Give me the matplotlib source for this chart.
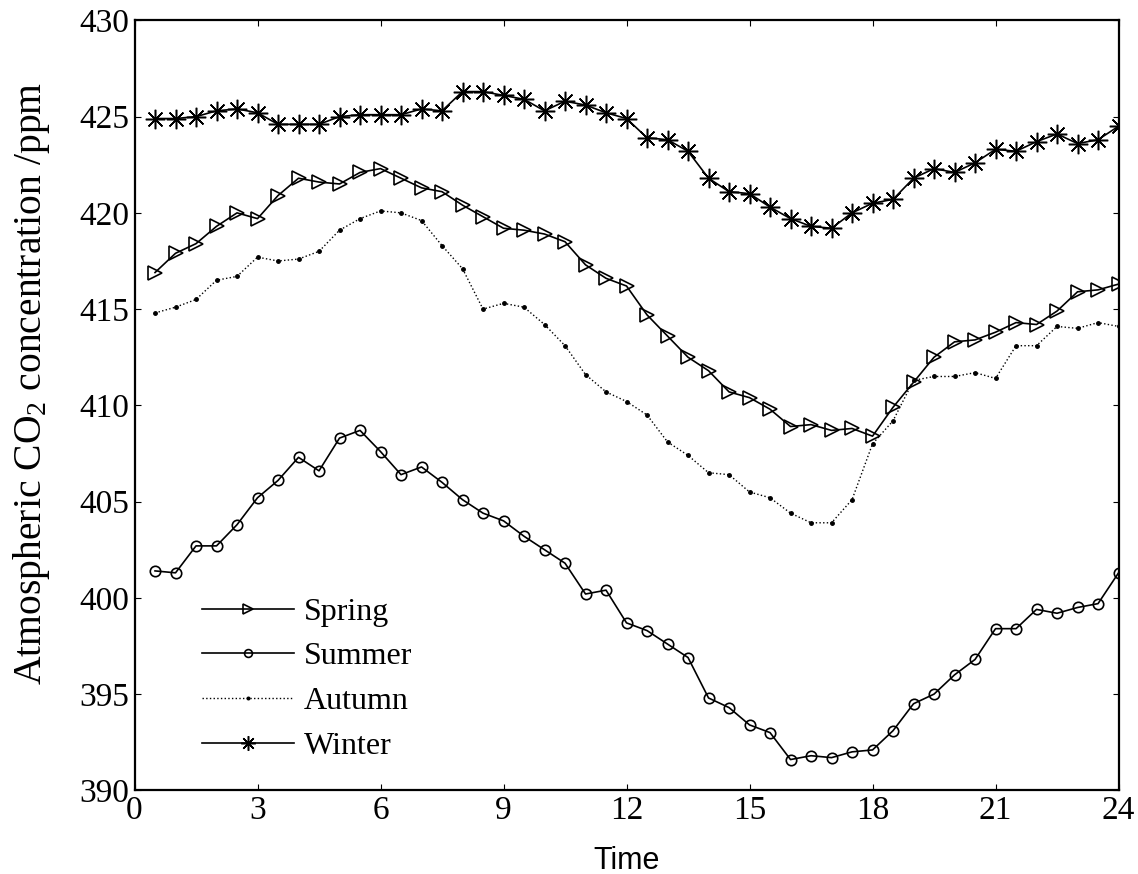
import matplotlib
matplotlib.use("Agg")
import matplotlib.pyplot as plt
import numpy as np

plt.rcParams['font.family'] = ['Liberation Serif', 'DejaVu Serif']
plt.rcParams['mathtext.fontset'] = 'custom'
plt.rcParams['mathtext.rm'] = 'Liberation Serif'
plt.rcParams['mathtext.it'] = 'Liberation Serif:italic'

# half-hourly readings, 0.5 h .. 24 h
hours = np.arange(1, 49) * 0.5

spring = [416.9, 417.9, 418.4, 419.3, 420.0, 419.7, 420.9, 421.8, 421.6, 421.5,
          422.1, 422.3, 421.8, 421.3, 421.1, 420.4, 419.8, 419.2, 419.1, 418.9,
          418.5, 417.3, 416.6, 416.2, 414.7, 413.6, 412.5, 411.8, 410.7, 410.4,
          409.8, 408.9, 409.0, 408.7, 408.8, 408.4, 409.9, 411.2, 412.5, 413.3,
          413.4, 413.8, 414.3, 414.2, 414.9, 415.9, 416.0, 416.3]

summer = [401.4, 401.3, 402.7, 402.7, 403.8, 405.2, 406.1, 407.3, 406.6, 408.3,
          408.7, 407.6, 406.4, 406.8, 406.0, 405.1, 404.4, 404.0, 403.2, 402.5,
          401.8, 400.2, 400.4, 398.7, 398.3, 397.6, 396.9, 394.8, 394.3, 393.4,
          393.0, 391.6, 391.8, 391.7, 392.0, 392.1, 393.1, 394.5, 395.0, 396.0,
          396.8, 398.4, 398.4, 399.4, 399.2, 399.5, 399.7, 401.3]

autumn = [414.8, 415.1, 415.5, 416.5, 416.7, 417.7, 417.5, 417.6, 418.0, 419.1,
          419.7, 420.1, 420.0, 419.6, 418.3, 417.1, 415.0, 415.3, 415.1, 414.2,
          413.1, 411.6, 410.7, 410.2, 409.5, 408.1, 407.4, 406.5, 406.4, 405.5,
          405.2, 404.4, 403.9, 403.9, 405.1, 408.0, 409.2, 411.3, 411.5, 411.5,
          411.7, 411.4, 413.1, 413.1, 414.1, 414.0, 414.3, 414.1]

winter = [424.9, 424.9, 425.0, 425.3, 425.4, 425.2, 424.6, 424.6, 424.6, 425.0,
          425.1, 425.1, 425.1, 425.4, 425.3, 426.3, 426.3, 426.1, 425.9, 425.3,
          425.8, 425.6, 425.2, 424.9, 423.9, 423.8, 423.2, 421.8, 421.1, 421.0,
          420.3, 419.7, 419.3, 419.2, 420.0, 420.5, 420.7, 421.8, 422.3, 422.1,
          422.6, 423.3, 423.2, 423.7, 424.1, 423.6, 423.8, 424.5]

xticks = [0, 3, 6, 9, 12, 15, 18, 21, 24]
yticks = [390, 395, 400, 405, 410, 415, 420, 425, 430]

fig = plt.figure(figsize=(11.38, 8.74), dpi=100)
ax = fig.add_axes([0.1182, 0.0957, 0.8647, 0.881])

ax.plot(hours, spring, '-', color='k', lw=1.2, marker='>', ms=10.5,
        mfc='none', mec='k', mew=1.2, label='Spring')
ax.plot(hours, summer, '-', color='k', lw=1.2, marker='o', ms=7.5,
        mfc='none', mec='k', mew=1.2, label='Summer')
ax.plot(hours, autumn, ':', color='k', lw=1.0, marker='.', ms=5,
        mfc='k', mec='k', label='Autumn')
ax.plot(hours, winter, '-', color='k', lw=1.2, marker=(8, 2, 0), ms=14,
        mec='k', mew=1.1, label='Winter')

ax.set_xlim(0, 24)
ax.set_ylim(390, 430)
ax.set_xticks(xticks)
ax.set_yticks(yticks)
ax.tick_params(direction='in', length=4, width=0.8, labelsize=24,
               top=True, right=True, pad=4)
for s in ax.spines.values():
    s.set_linewidth(1.6)

ax.set_xlabel('Time', family=['Liberation Sans', 'DejaVu Sans'], fontsize=22)
ax.xaxis.set_label_coords(0.5, -0.072)
ax.set_ylabel('Atmospheric CO$_2$ concentration /ppm', fontsize=28.5)
ax.yaxis.set_label_coords(-0.084, 0.528)

leg = ax.legend(loc='upper left', bbox_to_anchor=(0.039, 0.288), frameon=False,
                fontsize=23, handlelength=2.9, handletextpad=0.3,
                labelspacing=0.48, numpoints=1, markerscale=0.75)

fig.savefig('out.png', dpi=100)
